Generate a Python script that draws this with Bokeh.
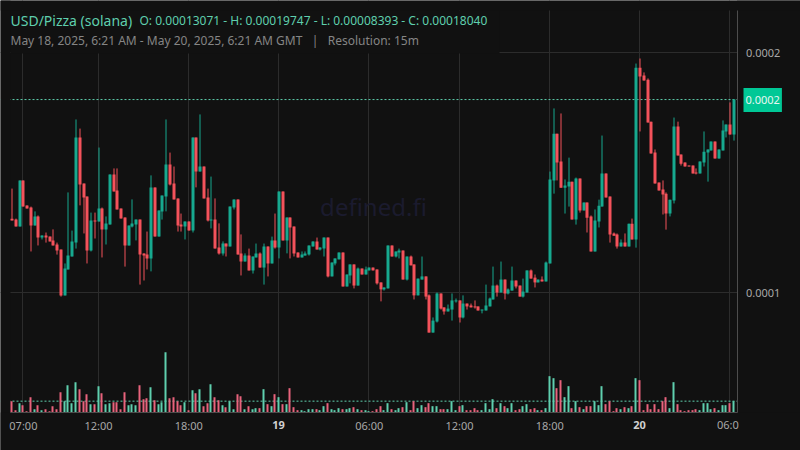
import math
import pandas as pd
from bokeh.plotting import figure
from bokeh.models import (ColumnDataSource, Range1d, FixedTicker, Span, Label,
                          BoxAnnotation, PrintfTickFormatter)
from bokeh.embed import file_html
from bokeh.resources import INLINE

# prices in millionths of a USD
opens = [130.7,130.4,127.5,146.7,136.3,135.4,127.9,131.7,122.9,123.8,123.3,121.7,120.0,117.9,98.8,109.6,115.0,120.8,164.6,145.4,
 140.0,117.5,130.0,129.6,135.0,126.3,128.3,149.2,142.5,135.0,131.3,119.6,127.5,128.3,130.4,116.3,115.8,114.2,143.8,123.3,
 133.8,140.0,153.3,145.4,139.2,128.3,127.5,129.6,125.8,164.6,150.4,152.5,139.6,130.0,130.4,118.8,116.3,120.4,119.2,135.4,
 138.8,116.3,112.9,115.4,109.2,114.6,116.3,110.4,119.2,112.1,121.7,118.8,142.1,121.7,131.3,127.5,116.7,114.6,115.4,115.8,
 119.2,121.3,117.9,118.3,122.9,106.7,112.1,113.8,116.7,102.5,107.1,111.7,102.9,110.0,107.5,109.2,110.4,109.6,104.2,101.3,
 101.7,119.6,115.0,116.7,117.5,105.4,115.0,111.7,98.8,105.4,106.7,98.8,83.3,87.9,99.6,93.8,92.1,92.9,96.3,96.7,
 89.6,95.4,94.6,94.2,94.2,92.5,92.5,94.2,97.1,102.9,100.0,105.4,99.6,100.8,105.0,102.9,98.3,100.0,109.2,106.2,
 104.2,105.4,104.6,112.1,146.7,166.2,154.6,143.7,144.2,146.2,130.4,147.5,134.2,137.5,131.7,117.1,129.6,135.8,149.6,140.0,
 124.6,124.2,119.2,120.8,119.2,128.7,122.1,193.7,190.4,188.7,171.2,158.3,145.8,142.9,141.2,132.9,138.3,169.2,157.5,154.2,
 152.9,152.9,150.0,149.6,154.2,158.3,159.2,162.9,155.8,159.2,167.1,170.0,165.8]
highs = [143.3,130.8,146.7,146.7,136.3,135.8,133.8,132.1,123.8,125.0,123.3,126.3,120.8,117.9,112.1,141.7,125.8,172.1,168.3,145.4,
 140.0,133.3,133.3,160.4,135.4,131.7,149.2,151.7,151.7,135.0,131.3,127.9,138.8,130.4,130.4,116.3,125.4,148.8,143.8,134.2,
 140.4,172.1,158.3,152.5,139.2,132.9,129.6,129.6,164.6,164.6,174.2,152.5,143.3,148.3,139.2,128.8,121.3,120.4,135.8,138.8,
 138.8,124.2,116.3,118.3,115.0,120.4,116.7,120.4,119.2,123.3,132.9,142.1,142.1,131.3,131.3,127.5,116.7,117.1,117.1,119.6,
 121.3,122.9,118.8,122.9,122.9,112.5,114.2,116.7,116.7,107.5,111.7,111.7,110.4,110.0,110.8,110.4,110.4,109.6,104.2,102.1,
 119.6,119.6,117.1,118.3,117.5,115.0,115.4,111.7,105.8,115.0,106.7,99.2,89.6,100.0,99.6,93.8,95.0,99.6,97.5,96.7,
 98.8,95.4,95.4,96.7,94.2,92.9,103.3,97.9,110.8,103.3,112.9,105.4,101.7,110.8,105.0,102.9,105.8,109.2,109.6,107.5,
 105.4,106.7,112.9,150.4,176.7,166.2,174.6,147.1,156.2,146.2,147.9,147.5,137.5,137.5,132.1,134.6,138.7,165.4,149.6,140.0,
 125.0,124.6,122.1,124.6,128.7,130.8,195.4,197.5,191.7,189.2,171.2,159.6,145.8,146.7,141.7,138.7,172.9,171.2,157.5,154.2,
 152.9,152.9,151.7,154.6,167.1,159.6,162.9,162.9,159.6,171.7,170.0,179.2,180.4]
lows = [130.0,127.5,127.5,135.8,135.0,117.1,127.9,119.6,122.1,120.8,121.3,119.6,115.8,98.3,98.8,109.6,115.0,118.3,136.3,124.6,
 112.1,117.1,122.5,129.6,114.6,120.0,128.3,142.1,134.6,130.8,110.8,119.6,127.1,121.7,103.3,105.0,109.6,108.8,123.3,123.3,
 130.4,133.8,144.6,138.8,125.4,125.4,122.1,125.8,125.0,143.8,150.4,139.2,129.6,126.7,118.3,115.8,115.4,115.0,119.2,134.6,
 115.8,107.1,112.9,109.2,107.9,114.6,110.4,103.3,106.7,112.1,118.3,114.2,121.7,116.3,114.2,115.0,114.6,114.6,115.4,115.4,
 119.2,117.9,117.5,115.0,106.3,106.7,111.3,113.8,102.5,102.5,103.8,101.7,102.9,107.5,107.5,109.2,109.2,103.3,96.3,100.8,
 101.7,115.0,114.6,114.2,105.4,105.0,111.3,97.1,98.8,105.4,97.1,83.3,83.3,87.5,92.9,90.8,92.1,88.3,95.8,87.5,
 89.2,92.9,93.8,93.3,92.5,91.3,92.5,94.2,97.1,98.3,100.0,97.1,99.2,100.8,101.7,98.3,97.9,100.0,105.8,102.1,
 104.2,104.6,104.6,112.1,141.2,146.7,143.7,132.9,135.8,130.4,128.3,133.3,134.2,125.0,117.1,117.1,127.1,135.8,139.6,120.8,
 123.7,118.3,119.2,119.2,119.2,122.1,118.7,167.1,188.3,170.8,157.9,145.4,142.5,132.5,126.2,131.7,137.1,157.1,152.9,152.5,
 152.5,149.6,149.2,149.6,152.5,146.2,159.2,155.8,155.8,159.2,164.6,165.8,163.3]
closes = [130.0,127.5,146.7,135.8,135.0,127.9,131.7,122.9,123.8,122.9,121.3,119.6,117.5,98.8,110.0,115.4,121.3,164.6,145.0,139.6,
 117.5,130.0,129.6,135.0,126.3,128.8,149.2,142.1,134.6,130.8,119.6,127.9,128.8,130.4,115.8,115.4,114.2,143.8,123.3,134.2,
 140.4,153.3,145.0,138.8,127.9,127.5,129.6,125.8,164.6,150.4,152.5,139.2,130.0,130.4,118.3,116.3,120.4,119.2,135.8,138.8,
 115.8,112.9,115.4,109.2,115.0,116.3,110.4,119.2,112.1,121.7,118.8,142.1,121.7,131.3,127.1,116.3,114.6,115.8,116.3,119.6,
 121.3,117.9,118.8,122.9,106.7,112.5,114.2,116.7,102.5,107.5,111.7,102.9,110.0,107.5,109.6,110.4,109.2,103.8,101.3,102.1,
 119.6,115.0,117.1,117.5,105.4,115.0,111.3,98.8,105.8,106.7,98.3,83.3,88.3,99.6,93.3,92.1,93.3,96.7,96.7,89.6,
 95.4,94.2,93.8,93.8,92.5,92.9,94.6,97.5,102.9,100.0,105.4,99.6,101.3,105.0,102.5,98.3,100.4,109.2,105.8,104.2,
 105.4,104.6,112.5,147.1,166.2,154.2,143.7,144.6,146.2,130.4,147.5,134.2,137.5,131.2,117.1,130.0,136.2,149.6,139.6,124.2,
 123.7,119.2,120.8,119.2,128.7,122.1,193.7,190.0,188.3,170.8,157.9,145.4,142.5,140.8,132.9,138.7,169.2,157.1,153.7,152.5,
 152.5,149.6,149.6,154.6,158.7,159.6,162.9,155.8,159.6,167.5,170.0,165.8,180.4]
volumes = [34,7,28,22,4,46,10,22,7,10,4,19,10,61,34,82,28,91,70,34,55,25,25,79,58,25,28,31,31,10,
 61,22,25,22,82,40,43,76,37,25,31,181,43,46,34,22,31,7,67,58,70,19,28,85,46,37,22,16,34,10,
 55,49,10,19,10,13,13,70,25,19,55,46,25,25,73,16,7,7,4,10,10,10,7,19,28,10,7,13,10,10,
 13,16,10,7,7,4,4,10,19,7,28,10,7,13,16,31,7,34,13,22,16,28,19,19,10,10,10,34,7,19,
 22,7,7,13,7,7,28,10,40,13,28,19,13,28,7,10,19,25,10,13,7,7,13,109,103,73,97,46,79,13,
 34,16,10,19,19,34,22,79,25,34,4,13,10,16,13,19,103,97,7,25,10,25,10,34,46,13,91,25,7,4,
 7,7,10,7,28,28,10,13,7,22,22,28,34]

times = pd.date_range("2025-05-18 06:15", periods=len(opens), freq="15min")
tick_labels = {"2025-05-18 07:00": "07:00", "2025-05-18 12:00": "12:00", "2025-05-18 18:00": "18:00",
               "2025-05-19 00:00": "", "2025-05-19 06:00": "06:00", "2025-05-19 12:00": "12:00",
               "2025-05-19 18:00": "18:00", "2025-05-20 00:00": "", "2025-05-20 06:00": ""}
title_text = "USD/Pizza (solana)"
ohlc_text = "O: 0.00013071 - H: 0.00019747 - L: 0.00008393 - C: 0.00018040"
sub_text = "May 18, 2025, 6:21 AM - May 20, 2025, 6:21 AM GMT\u00a0\u00a0\u00a0|\u00a0\u00a0\u00a0Resolution: 15m"

BG, UP, DOWN, VUP, VDOWN = "#111111", "#17a98f", "#f4525b", "#5fcfae", "#e8637c"
GRID, AXIS, TICK, FONT = "#2c2c2c", "#4d4d4d", "#a8a8a8", "Noto Sans"
MS = 15 * 60 * 1000
P = 1e-6
t_ms = [t.value / 1e6 for t in times]
tick_ms = {pd.Timestamp(k).value / 1e6: v for k, v in tick_labels.items()}

# the frame fills the page so that tag and labels are not clipped
px_ms = MS / 3.76                  # time per pixel
x_start = t_ms[0] - 11.6 * px_ms
x_end = x_start + 800 * px_ms
x_left = x_start + 10 * px_ms      # plot area left
x_right = x_start + 736.5 * px_ms  # plot area right
y_lo, y_hi = 50e-6, 217.5e-6       # plot area bottom and top

def snap(t):
    """Centre of the pixel a time falls in, as the reference chart draws it."""
    return x_start + (math.floor((t - x_start) / px_ms) + 0.5) * px_ms

rising = [c >= o for o, c in zip(opens, closes)]
src = ColumnDataSource(dict(
    t=[snap(t) for t in t_ms],
    tv=[snap(t) - 0.5 * px_ms for t in t_ms],
    top=[max(o, c) * P for o, c in zip(opens, closes)],
    bot=[min(o, c) * P for o, c in zip(opens, closes)],
    hi=[h * P for h in highs], lo=[l * P for l in lows], vol=volumes,
    col=[UP if r else DOWN for r in rising],
    vcol=[VUP if r else VDOWN for r in rising]))

p = figure(width=800, height=450, output_backend="svg", toolbar_location=None,
           x_range=Range1d(x_start, x_end), y_range=Range1d(34.17e-6, 221.67e-6),
           background_fill_color=BG, border_fill_color=BG, outline_line_color=None,
           min_border=0, x_axis_location="below", y_axis_location="right")
p.extra_y_ranges = {"vol": Range1d(-114, 1236)}

p.xaxis.ticker = FixedTicker(ticks=list(tick_ms))
p.xaxis.major_label_overrides = tick_ms
p.xaxis.fixed_location = y_lo
p.xaxis.bounds = (x_left, x_right)
p.yaxis.ticker = FixedTicker(ticks=[1e-4, 2e-4])
p.yaxis.formatter = PrintfTickFormatter(format="%.4f")
p.yaxis.fixed_location = x_right
p.yaxis.bounds = (y_lo, y_hi)
for ax in (p.xaxis[0], p.yaxis[0]):
    ax.axis_line_color = AXIS
    ax.major_tick_line_color = None
    ax.minor_tick_line_color = None
    ax.major_tick_out = 0
    ax.major_label_text_color = TICK
    ax.major_label_text_font = FONT
    ax.major_label_text_font_size = "11px"
p.yaxis.major_label_standoff = 9
p.xaxis.major_label_standoff = 5
p.grid.grid_line_color = GRID
p.xgrid.ticker = FixedTicker(ticks=[snap(t) - 0.5 * px_ms for t in tick_ms])
p.ygrid.ticker = FixedTicker(ticks=[1e-4, 2e-4])

p.add_layout(Span(location=closes[-1] * P, dimension="width", line_color=VUP, line_width=1,
                  line_dash=[2, 2], level="underlay"))
p.add_layout(Span(location=volumes[-1], dimension="width", line_color=VUP, line_width=1, line_dash=[2, 2],
                  y_range_name="vol", level="underlay"))
for kw in (dict(left=x_start, right=x_left), dict(left=x_right, right=x_end),
           dict(bottom=34.17e-6, top=y_lo), dict(bottom=y_hi, top=221.67e-6)):
    p.add_layout(BoxAnnotation(fill_color=BG, fill_alpha=1, line_color=None, level="underlay", **kw))

p.add_layout(Label(x=373, y=244, x_units="screen", y_units="screen", text="defined.fi", text_color="#1b1b2e",
                   text_font=FONT, text_font_size="24px", text_align="center", text_baseline="middle",
                   level="underlay"))

p.vbar(x="tv", top="vol", bottom=0, width=2 * px_ms, fill_color="vcol", line_color=None, source=src, y_range_name="vol")
p.segment(x0="t", x1="t", y0="lo", y1="hi", color="col", line_width=1, source=src)
p.vbar(x="t", top="top", bottom="bot", width=3 * px_ms, fill_color="col", line_color=None, source=src)

p.add_layout(BoxAnnotation(left=x_left, right=x_start + 499 * px_ms, bottom=199.6e-6, top=y_hi,
                           fill_color=BG, fill_alpha=1, line_color=None, level="overlay"))

def text(x, y, s, color, size="11px", **kw):
    p.add_layout(Label(x=x, y=450 - y, x_units="screen", y_units="screen", text=s, text_color=color,
                       text_font=FONT, text_font_size=size, text_baseline="middle", level="overlay", **kw))

text(10, 20, title_text, VUP, "14px")
text(139, 20, ohlc_text, VUP, "12px")
text(10, 40, sub_text, "#858585", "12px")
text(743, 99.5, "0.0002", "#e6f7f2", background_fill_color="#00c896", padding=(2, 8))
text(278, 424, "19", "#d0d0d0", text_font_style="bold", text_align="center")
text(639, 424, "20", "#d0d0d0", text_font_style="bold", text_align="center")
text(716.5, 424, "06:0", TICK)

open("out.html", "w").write(file_html(p, INLINE))
